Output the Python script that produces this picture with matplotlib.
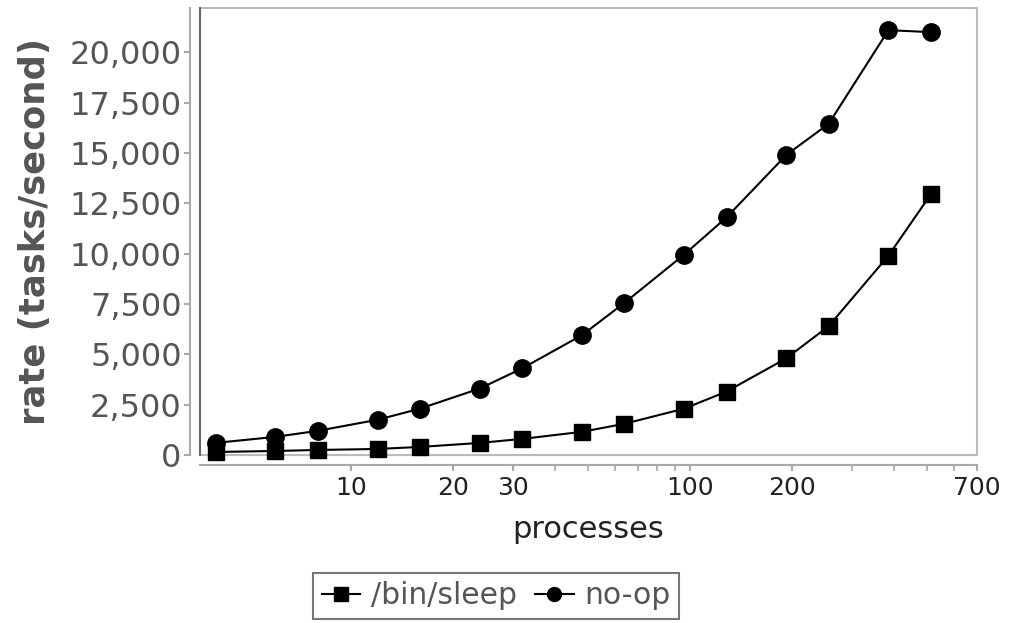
import matplotlib
matplotlib.use("Agg")
import matplotlib.pyplot as plt
from matplotlib.patches import Rectangle
from matplotlib.ticker import FixedLocator, NullFormatter, FuncFormatter
from matplotlib.lines import Line2D

processes = [4, 6, 8, 12, 16, 24, 32, 48, 64, 96, 128, 192, 256, 384, 512]
sleep_rate = [150, 200, 250, 300, 400, 600, 800, 1150, 1550, 2300, 3150, 4800, 6400, 9900, 12950]
noop_rate = [600, 900, 1200, 1750, 2300, 3300, 4300, 5950, 7550, 9950, 11800, 14900, 16450, 21100, 21000]
series_names = ["/bin/sleep", "no-op"]
x_major = [10, 20, 30, 100, 200, 700]
x_minor = [40, 50, 60, 70, 80, 90, 300, 400, 500, 600]
y_ticks = list(range(0, 20001, 2500))

W, H = 1013, 623
fig = plt.figure(figsize=(W / 100, H / 100), dpi=100)
ax = fig.add_axes([200 / W, 1 - 455 / H, 777 / W, 447 / H])

ax.plot(processes, sleep_rate, color="black", lw=1.5, marker="s", ms=12, label=series_names[0], clip_on=False, zorder=3)
ax.plot(processes, noop_rate, color="black", lw=1.5, marker="o", ms=12.5, label=series_names[1], clip_on=False, zorder=3)

ax.set_xscale("log")
ax.set_xlim(3.6, 700)
ax.set_ylim(0, 22200)

# frame
ax.add_patch(Rectangle((0, 0), 1, 1, transform=ax.transAxes, fill=False,
                       edgecolor="#bbbbbb", lw=1.5, clip_on=False, zorder=1))
ax.plot([0, 0], [0, 1], transform=ax.transAxes, color="#666666", lw=1.5, clip_on=False, zorder=1)

for s in ["top", "right"]:
    ax.spines[s].set_visible(False)
for s in ["left", "bottom"]:
    ax.spines[s].set_position(("outward", 7.2))
    ax.spines[s].set_color("#aaaaaa")
    ax.spines[s].set_linewidth(1.5)

ax.set_yticks(y_ticks)
ax.yaxis.set_major_formatter(FuncFormatter(lambda v, p: f"{int(v):,}"))
ax.tick_params(axis="y", labelsize=23, labelcolor="#555555", color="#aaaaaa", length=4, width=1.5, pad=2)

ax.xaxis.set_major_locator(FixedLocator(x_major))
ax.xaxis.set_major_formatter(FuncFormatter(lambda v, p: f"{int(round(v))}"))
ax.xaxis.set_minor_locator(FixedLocator(x_minor))
ax.xaxis.set_minor_formatter(NullFormatter())
ax.tick_params(axis="x", which="major", labelsize=18, labelcolor="#222222", color="#aaaaaa", length=4, width=1.5, pad=4)
ax.tick_params(axis="x", which="minor", color="#aaaaaa", length=4, width=1.2)

ax.set_ylabel("rate (tasks/second)", fontsize=25.5, fontweight="bold", color="#555555")
ax.yaxis.set_label_coords(-165 / 777, 0.5)
ax.yaxis.label.set_verticalalignment("center")

ax.set_xlabel("processes", fontsize=22, color="#222222")
ax.xaxis.set_label_coords(0.5, -75 / 447)
ax.xaxis.label.set_verticalalignment("center")

handles = [Line2D([], [], color="black", lw=1.5, marker="s", ms=10),
           Line2D([], [], color="black", lw=1.5, marker="o", ms=10)]
leg = fig.legend(handles, series_names, loc="center", bbox_to_anchor=(496 / W, 1 - 596 / H),
                 ncol=2, fontsize=21.5, frameon=True, fancybox=False, edgecolor="#555555",
                 handlelength=1.3, handletextpad=0.35, columnspacing=0.6, borderpad=0.3,
                 borderaxespad=0)
leg.get_frame().set_linewidth(1.5)
for t in leg.get_texts():
    t.set_color("#555555")

fig.savefig("out.png", dpi=100)
